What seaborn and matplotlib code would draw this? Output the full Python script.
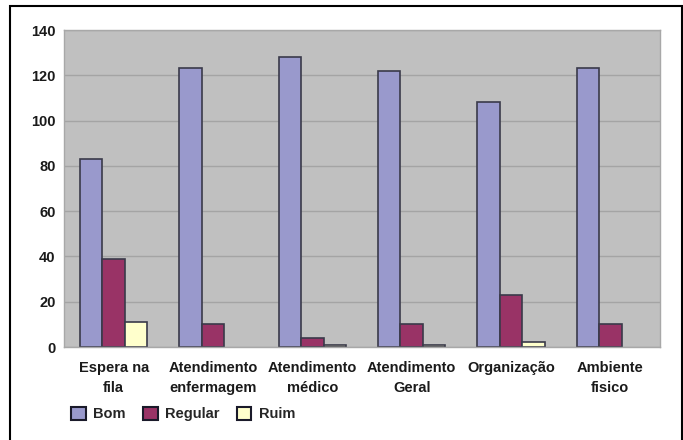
import matplotlib
matplotlib.use("Agg")
import matplotlib.pyplot as plt
import matplotlib.patches as mpatches
import seaborn as sns
import pandas as pd

categories = ["Espera na\nfila", "Atendimento\nenfermagem", "Atendimento\nmédico",
              "Atendimento\nGeral", "Organização", "Ambiente\nfisico"]
series = ["Bom", "Regular", "Ruim"]
bom = [83, 123, 128, 122, 108, 123]
regular = [39, 10, 4, 10, 23, 10]
ruim = [11, 0, 1, 1, 2, 0]
y_ticks = [0, 20, 40, 60, 80, 100, 120, 140]

colors = {"Bom": "#9999cc", "Regular": "#993366", "Ruim": "#ffffcc"}

rows = []
for name, vals in zip(series, [bom, regular, ruim]):
    for cat, v in zip(categories, vals):
        rows.append({"categoria": cat, "valor": v, "serie": name})
df = pd.DataFrame(rows)

sns.set_theme(style="white")
plt.rcParams["font.family"] = ["Liberation Sans", "DejaVu Sans"]
plt.rcParams["font.weight"] = "bold"

fig = plt.figure(figsize=(6.83, 4.40), dpi=100)
ax = fig.add_axes([64 / 683, 1 - 347 / 440, (660 - 64) / 683, (347 - 30) / 440])
ax.set_facecolor("#c0c0c0")

sns.barplot(data=df, x="categoria", y="valor", hue="serie", palette=colors,
            hue_order=series, order=categories, width=0.68, saturation=1,
            edgecolor="#3a3a4a", linewidth=1.2, ax=ax, legend=False)

# empty bars leave no outline on the baseline
for p in ax.patches:
    if p.get_height() == 0:
        p.set_linewidth(0)

ax.set_ylim(0, 140)
ax.set_yticks(y_ticks)
ax.set_xlim(-0.5, len(categories) - 0.5)
ax.yaxis.grid(True, color="#a4a4a4", linewidth=1.0)
ax.set_axisbelow(True)
ax.set_xlabel("")
ax.set_ylabel("")
ax.tick_params(axis="both", length=0, labelsize=10.5, colors="#1a1a1a")
ax.tick_params(axis="x", pad=10)
ax.tick_params(axis="y", pad=6)
for lbl in ax.get_xticklabels() + ax.get_yticklabels():
    lbl.set_fontweight("bold")
for lbl in ax.get_xticklabels():
    lbl.set_linespacing(1.6)
    lbl.set_verticalalignment("top")
for s in ax.spines.values():
    s.set_color("#a8a8a8")
    s.set_linewidth(1.0)

handles = [mpatches.Patch(facecolor=colors[s], edgecolor="#1a1a2a", linewidth=1.5, label=s)
           for s in series]
fig.legend(handles=handles, loc="center left", bbox_to_anchor=(58 / 683, 26 / 440),
           ncol=3, frameon=False, prop={"weight": "bold", "size": 10.5},
           handlelength=1.0, handleheight=1.0, handletextpad=0.5, columnspacing=1.2)

# outer chart frame
fig.patches.append(mpatches.Rectangle((10 / 683, -0.01), (682 - 10) / 683, (440 - 6) / 440 + 0.01,
                                      transform=fig.transFigure, fill=False,
                                      edgecolor="black", linewidth=1.5))

fig.savefig("out.png", dpi=100)
